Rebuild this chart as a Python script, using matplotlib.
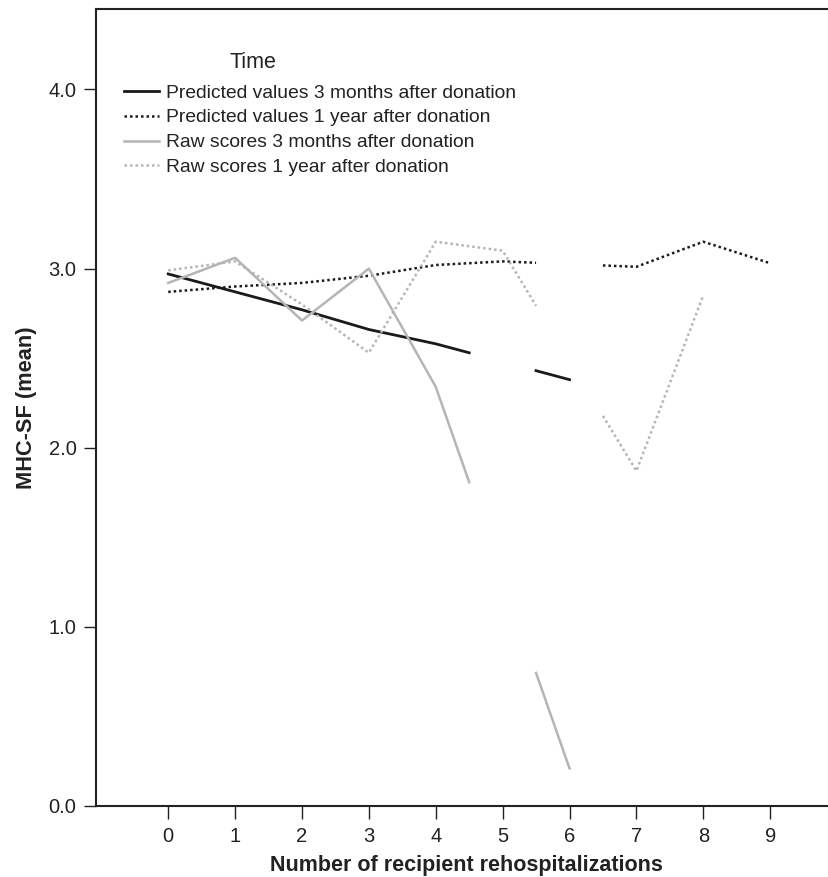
import numpy as np
import matplotlib
matplotlib.use('Agg')
import matplotlib.pyplot as plt

plt.rcParams['font.family'] = ['Liberation Sans', 'DejaVu Sans']

# rehospitalization counts on the x axis
visits = np.arange(10)

# MHC-SF means (nan = no value for that count)
pred_3m = [2.97, 2.87, 2.77, 2.66, 2.58, np.nan, 2.38, np.nan, np.nan, np.nan]
pred_1y = [2.87, 2.90, 2.92, 2.96, 3.02, 3.04, np.nan, 3.01, 3.15, 3.03]
raw_3m = [2.92, 3.06, 2.71, 3.00, 2.34, np.nan, 0.21, np.nan, np.nan, np.nan]
raw_1y = [2.99, 3.04, 2.80, 2.53, 3.15, 3.10, np.nan, 1.87, 2.85, np.nan]

labels = ['Predicted values 3 months after donation',
          'Predicted values 1 year after donation',
          'Raw scores 3 months after donation',
          'Raw scores 1 year after donation']
y_ticks = [0.0, 1.0, 2.0, 3.0, 4.0]


def broken_path(x, y):
    # connect valid points; across a missing value only the outer halves are drawn
    y = np.asarray(y, dtype=float)
    ok = ~np.isnan(y)
    xs, ys = x[ok], y[ok]
    px, py = [xs[0]], [ys[0]]
    for i in range(len(xs) - 1):
        if xs[i + 1] - xs[i] > 1:
            a, b = xs[i] + 0.5, xs[i + 1] - 0.5
            px += [a, np.nan, b]
            py += [np.interp(a, xs, ys), np.nan, np.interp(b, xs, ys)]
        px.append(xs[i + 1])
        py.append(ys[i + 1])
    return np.array(px), np.array(py)


fig = plt.figure(figsize=(8.29, 8.77), dpi=100)
ax = fig.add_axes([0.1158, 0.081, 0.8842, 0.9089])

grey = '#b5b5b5'
ink = '#222222'
styles = [
    dict(color='#1a1a1a', lw=2.0, ls='-'),
    dict(color='#1a1a1a', lw=1.8, ls=(0, (1, 1.2))),
    dict(color=grey, lw=1.8, ls='-'),
    dict(color=grey, lw=1.8, ls=(0, (1, 1.2))),
]
handles = []
for vals, st, lab in zip([pred_3m, pred_1y, raw_3m, raw_1y], styles, labels):
    px, py = broken_path(visits, vals)
    h, = ax.plot(px, py, label=lab, **st)
    handles.append(h)

ax.set_xlim(-1.08, 9.88)
ax.set_ylim(0, 4.45)
ax.set_xticks(visits)
ax.set_yticks(y_ticks)
ax.set_yticklabels([f'{v:.1f}' for v in y_ticks])
ax.tick_params(axis='both', direction='out', length=9, width=1, labelsize=14.5,
               colors=ink, labelcolor=ink)
ax.tick_params(axis='y', pad=5)
ax.tick_params(axis='x', pad=6)

for s in ['left', 'bottom', 'top']:
    ax.spines[s].set_linewidth(1.5)
    ax.spines[s].set_color(ink)
ax.spines['right'].set_visible(False)

ax.set_xlabel('Number of recipient rehospitalizations', fontsize=15.5,
              fontweight='bold', color=ink)
ax.xaxis.set_label_coords(0.506, -0.0615)
ax.set_ylabel('MHC-SF (mean)', fontsize=15.7, fontweight='bold', color=ink)
ax.yaxis.set_label_coords(-0.0805, 0.5)

ax.text(0.1828, 0.933, 'Time', transform=ax.transAxes, fontsize=15.5,
        ha='left', va='center', color=ink)
ax.legend(handles=handles, loc='upper left', bbox_to_anchor=(0.038, 0.9056),
          frameon=False, fontsize=13.9, borderpad=0, borderaxespad=0,
          handlelength=1.81, handletextpad=0.35, labelspacing=0.38,
          labelcolor=ink)

fig.savefig('out.png', dpi=100)
